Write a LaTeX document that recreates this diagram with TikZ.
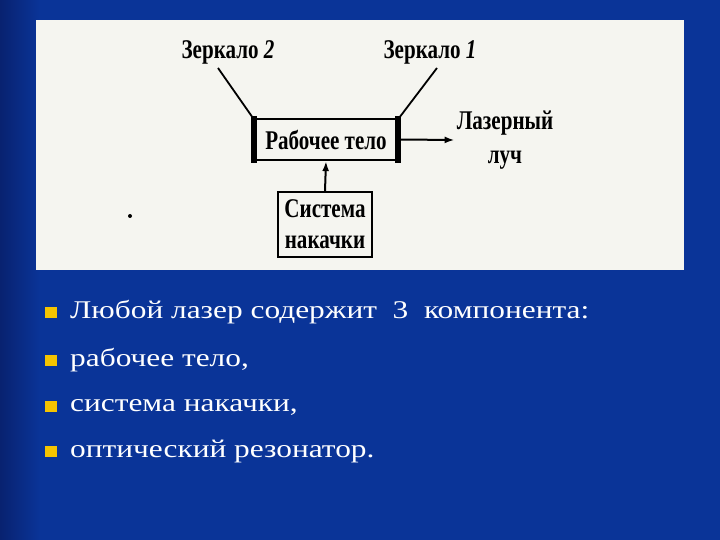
\documentclass[tikz,border=0pt]{standalone}
\usepackage{fontspec}
\setmainfont{Liberation Serif}
\newfontfamily\schemefont[FakeStretch=0.78]{Liberation Serif}
\newfontfamily\slidefont[FakeStretch=1.23]{Liberation Serif}
\usepackage{tikz}
\usetikzlibrary{arrows,arrows.meta,shapes,positioning}

\definecolor{slideblue}{RGB}{10,52,152}
\definecolor{slidedark}{RGB}{8,34,112}
\definecolor{paper}{RGB}{245,245,240}
\definecolor{bulletgold}{RGB}{246,196,0}

\begin{document}
\begin{tikzpicture}[x=1pt,y=-1pt]
\useasboundingbox (0,0) rectangle (720,540);
\fill[slideblue] (0,0) rectangle (720,540);
\shade[left color=slidedark,right color=slideblue] (0,0) rectangle (40,540);
\fill[paper] (36,20) rectangle (684,270);

\tikzstyle{schemetext}=[font=\schemefont\bfseries\fontsize{27}{31}\selectfont,inner sep=0pt,align=center]
\tikzstyle{block}=[schemetext,draw,line width=2.2pt]
\tikzstyle{beam}=[-{Latex[length=10pt,width=7pt]},line width=2pt]
\tikzstyle{item}=[font=\slidefont\fontsize{25.5}{30}\selectfont,text=white,anchor=base west,inner sep=0pt]

% laser scheme
\node[schemetext] (mirror2) at (228,52) {Зеркало \textit{2}};
\node[schemetext] (mirror1) at (430,52) {Зеркало \textit{1}};
\node[block,minimum width=146,minimum height=41] (body) at (326,139.5) {Рабочее тело};
\node[schemetext] (laser) at (505,140) {Лазерный\\[3pt]луч};
\node[block,minimum width=94,minimum height=65] (pump) at (325,224.5) {Система\\накачки};

\draw[line width=6pt] ([xshift=2pt,yshift=2pt]body.north west) -- ([xshift=2pt,yshift=-2pt]body.south west);
\draw[line width=6pt] ([xshift=-2pt,yshift=2pt]body.north east) -- ([xshift=-2pt,yshift=-2pt]body.south east);

\coordinate (m2end) at (218,68);
\coordinate (m1end) at (437,68);
\draw[line width=1.8pt] (m2end) -- ([xshift=1pt]body.north west);
\draw[line width=1.8pt] (m1end) -- ([xshift=-1pt]body.north east);
\draw[beam] (body.east) -- ([xshift=-2pt]laser.west);
\draw[beam] (pump.north) -- (body.south);

\fill (130,216) circle (2);

% list
\node[item] (t1) at (70,318) {Любой лазер содержит~~3~~компонента:};
\node[item] (t2) at (70,366) {рабочее тело,};
\node[item] (t3) at (70,411.5) {система накачки,};
\node[item] (t4) at (70,457) {оптический резонатор.};
\fill[bulletgold] (45,307) rectangle (57,318);
\fill[bulletgold] (45,355) rectangle (57,366);
\fill[bulletgold] (45,400.5) rectangle (57,411.5);
\fill[bulletgold] (45,446) rectangle (57,457);
\end{tikzpicture}
\end{document}
